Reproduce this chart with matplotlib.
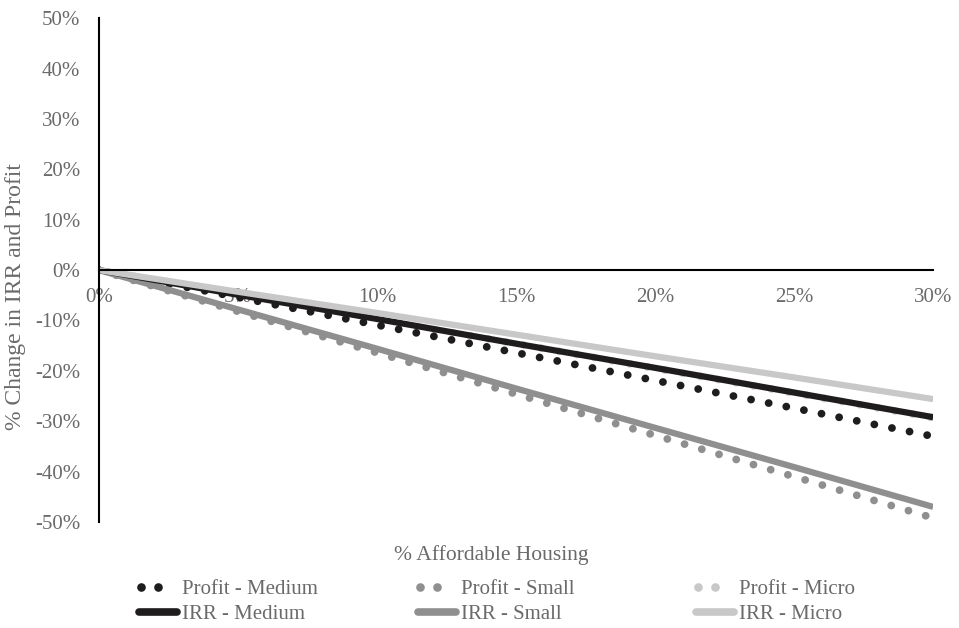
import matplotlib
matplotlib.use("Agg")
import matplotlib.pyplot as plt
from matplotlib.lines import Line2D
from matplotlib.legend_handler import HandlerBase

# % affordable housing (x) and % change in IRR / profit (y)
affordable = [0, 5, 10, 15, 20, 25, 30]
profit_medium = [0, -5.4, -10.9, -16.4, -21.9, -27.4, -33.0]
profit_small = [0, -8.2, -16.4, -24.6, -32.8, -41.0, -49.2]
profit_micro = [0, -4.9, -9.8, -14.6, -19.5, -24.4, -29.3]
irr_medium = [0, -4.9, -9.7, -14.6, -19.4, -24.3, -29.2]
irr_small = [0, -7.8, -15.6, -23.5, -31.3, -39.1, -47.0]
irr_micro = [0, -4.3, -8.5, -12.8, -17.1, -21.3, -25.6]

y_ticks = [-50, -40, -30, -20, -10, 0, 10, 20, 30, 40, 50]
x_ticks = [0, 5, 10, 15, 20, 25, 30]

c_medium = "#1f1c1d"
c_small = "#8f8f8f"
c_micro = "#c8c8c8"
txt = "#6a6a6a"
fs = 15

plt.rcParams['font.family'] = ['Liberation Serif', 'DejaVu Serif']
plt.rcParams['font.size'] = fs


class TwoDots(HandlerBase):
    # two round dots on the left part of the handle box, like the excel legend
    def create_artists(self, legend, orig, xdescent, ydescent, width, height, fontsize, trans):
        y = height / 2 - ydescent
        x0 = -xdescent
        dot = Line2D([x0 + 0.05 * width, x0 + 0.5 * width], [y, y], linestyle='none',
                     marker='o', markersize=6.2, markeredgewidth=0, color=orig.get_color())
        dot.set_transform(trans)
        return [dot]


fig = plt.figure(figsize=(9.59, 6.28), dpi=100)
ax = fig.add_axes([0.1032, 0.1688, 0.9730 - 0.1032, 0.971 - 0.1688])

dots = dict(linestyle=(0, (0.01, 2.3)), dash_capstyle='round', linewidth=5.6)
ax.plot(affordable, profit_small, color=c_small, **dots)
ax.plot(affordable, profit_micro, color=c_micro, **dots)
ax.plot(affordable, profit_medium, color=c_medium, **dots)
ax.plot(affordable, irr_small, color=c_small, linewidth=4.5, solid_capstyle='butt')
ax.plot(affordable, irr_medium, color=c_medium, linewidth=4.5, solid_capstyle='butt')
ax.plot(affordable, irr_micro, color=c_micro, linewidth=4.5, solid_capstyle='butt')

ax.set_xlim(0, 30)
ax.set_ylim(-50, 50)
ax.set_yticks(y_ticks)
ax.set_yticklabels([f"{v}%" for v in y_ticks])
ax.set_xticks(x_ticks)
ax.set_xticklabels([f"{v}%" for v in x_ticks])
ax.tick_params(length=0, colors=txt, labelsize=fs)
ax.tick_params(axis='y', pad=13.5)
ax.tick_params(axis='x', pad=13)

for s in ['top', 'right']:
    ax.spines[s].set_visible(False)
ax.spines['bottom'].set_position(('data', 0))
ax.spines['bottom'].set_color('black')
ax.spines['bottom'].set_linewidth(1.5)
ax.spines['left'].set_color('black')
ax.spines['left'].set_linewidth(1.5)

fig.text(0.512, 0.116, "% Affordable Housing", ha='center', va='center', color=txt, fontsize=15.5)
fig.text(0.016, 0.528, "% Change in IRR and Profit", ha='center', va='center',
         rotation=90, color=txt, fontsize=17)

# legend: three columns placed by hand
cols = [
    (0.145, "Profit - Medium", "IRR - Medium", c_medium),
    (0.436, "Profit - Small", "IRR - Small", c_small),
    (0.726, "Profit - Micro", "IRR - Micro", c_micro),
]
for x0, lab_p, lab_i, col in cols:
    hp = Line2D([0], [0], color=col)
    hi = Line2D([0], [0], color=col, linewidth=5.5, solid_capstyle='round')
    leg = fig.legend([hp, hi], [lab_p, lab_i], loc='upper left', bbox_to_anchor=(x0, 0.077),
                     frameon=False, handlelength=1.8, handletextpad=0.25,
                     labelspacing=0.25, borderpad=0, borderaxespad=0, fontsize=fs,
                     handler_map={hp: TwoDots()})
    for t in leg.get_texts():
        t.set_color(txt)

fig.savefig("out.png", dpi=100)
